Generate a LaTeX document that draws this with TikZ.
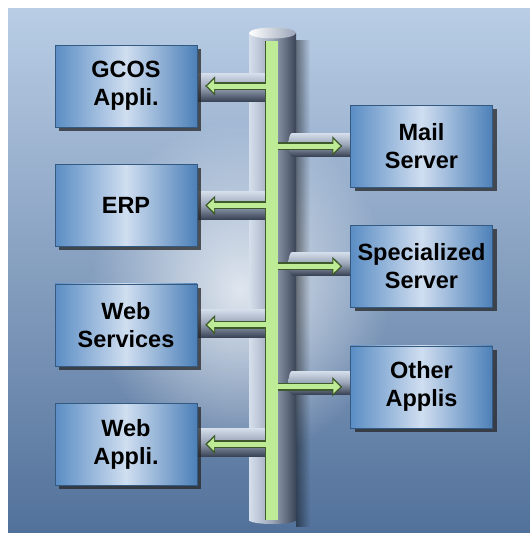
\documentclass[tikz,border=0pt]{standalone}
\usepackage{fontspec}
\setmainfont{Liberation Sans}
\usetikzlibrary{positioning,shadows,fadings,arrows.meta}

\definecolor{bgtop}{HTML}{B9CDE5}
\definecolor{bgbot}{HTML}{52719A}
\definecolor{boxleft}{HTML}{5A8DC4}
\definecolor{boxmid}{HTML}{D0DEF0}
\definecolor{boxright}{HTML}{4C80B8}
\definecolor{pipelight}{HTML}{D6DFEC}
\definecolor{pipemid}{HTML}{9AA5B8}
\definecolor{pipedark}{HTML}{3C4558}
\definecolor{buslight}{HTML}{BEEC96}
\definecolor{busdark}{HTML}{3E5A2A}

\tikzfading[name=glowfade, inner color=transparent!25, outer color=transparent!100]

\tikzset{
  appbox/.style={rectangle, minimum width=142pt, minimum height=82pt,
    inner sep=0pt, align=center, font=\fontsize{23.5}{28}\selectfont\bfseries,
    left color=boxleft, right color=boxright, middle color=boxmid,
    draw=boxright!70!black, line width=0.4pt,
    drop shadow={shadow xshift=4pt, shadow yshift=-4pt, opacity=0.75, fill=black!85}},
  busbar/.style={rectangle, fill=buslight, minimum width=12pt,
    minimum height=479pt, inner sep=0pt},
  linkedge/.style={draw=busdark, line width=8pt, shorten >=8pt,
    -{Triangle[length=10pt,width=19pt]}},
  linkfill/.style={draw=buslight, line width=5pt, shorten >=10pt,
    -{Triangle[length=7pt,width=13pt]}},
  pipe/.style={top color=pipelight, bottom color=pipedark, middle color=pipemid},
  cylbody/.style={left color=pipelight, right color=pipedark, middle color=pipemid}
}

\begin{document}
\begin{tikzpicture}[x=1pt,y=-1pt]
\useasboundingbox (0,0) rectangle (530,533);
% background
\shade[top color=bgtop, bottom color=bgbot] (8,8) rectangle (530,533);
\fill[white, path fading=glowfade] (240,290) ellipse (150 and 170);

% main cylinder
\fill[black, opacity=0.45, path fading=east] (296,40) rectangle (310,527);
\shade[cylbody] (272.5,520) ellipse (23.5 and 4);
\shade[cylbody] (249,33) rectangle (296,520);
\shade[left color=white, right color=pipemid] (272.5,33) ellipse (23.5 and 5.5);

% side pipes
\foreach \y in {87,205,323,442}
  \shade[pipe] (196,\y-14) rectangle (266,\y+14);
\foreach \y in {145,264,383}{
  \shade[pipe] (292,\y-0.5) ellipse (3.5 and 11.5);
  \shade[pipe] (292,\y-12) rectangle (351,\y+11);
}

% bus
\node[busbar] (bus) at (272,280.5) {};
\draw[busdark, line width=1.2pt] (bus.north west) -- (bus.south west);

% boxes
\node[appbox] (gcos) at (126,86) {GCOS\\Appli.};
\node[appbox, below=37pt of gcos] (erp) {ERP};
\node[appbox, below=37pt of erp] (websvc) {Web\\Services};
\node[appbox, below=37pt of websvc] (webapp) {Web\\Appli.};
\node[appbox] (mail) at (421.5,146) {Mail\\Server};
\node[appbox, below=38pt of mail] (spec) {Specialized\\Server};
\node[appbox, below=38pt of spec] (other) {Other\\Applis};

% links
\foreach \n in {gcos,erp,websvc,webapp}{
  \draw[linkedge] (bus.west |- \n.east) -- (\n.east);
  \draw[linkfill] (bus.center |- \n.east) -- (\n.east);
}
\foreach \n in {mail,spec,other}{
  \draw[linkedge] (bus.east |- \n.west) -- (\n.west);
  \draw[linkfill] (bus.center |- \n.west) -- (\n.west);
}
\end{tikzpicture}
\end{document}
